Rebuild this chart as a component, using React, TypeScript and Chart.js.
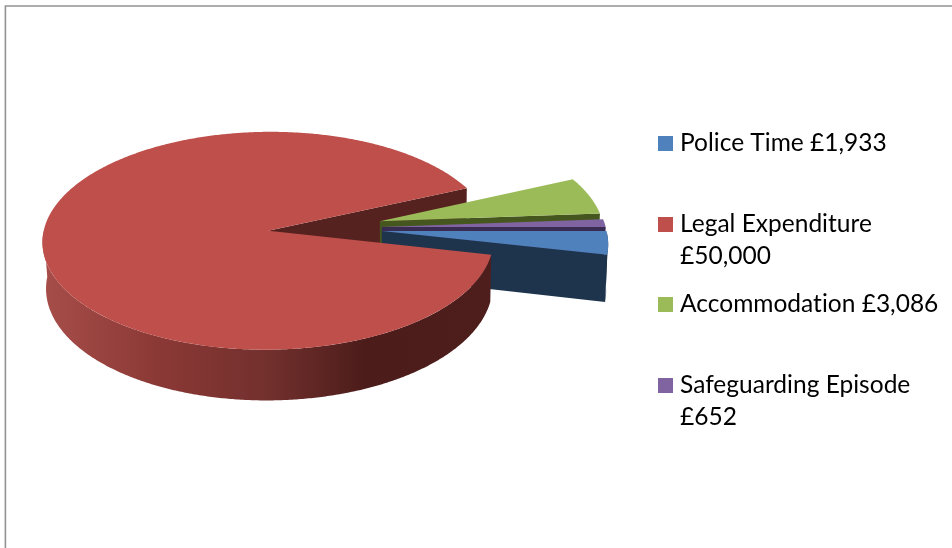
import React, { useEffect, useRef } from "react";
import { Chart, registerables } from "chart.js";

Chart.register(...registerables);

const categories = ["Police Time", "Legal Expenditure", "Accommodation", "Safeguarding Episode"];
const values = [1933, 50000, 3086, 652];
const legendLines = [
  ["Police Time £1,933"],
  ["Legal Expenditure", "£50,000"],
  ["Accommodation £3,086"],
  ["Safeguarding Episode", "£652"],
];
const sliceColors = ["#4F81BD", "#BE4F4B", "#9BBB59", "#8064A2"];
const wallColors = ["#1E344D", "#552220", "#46561F", "#3A2B52"];
const legendRowTops = [143.5, 224.5, 304.5, 385.5];

const FONT = '24.5px "Lato", "Open Sans", sans-serif';
const TILT = 0.48;
const PERSP = 0.000407;
const VX = 300;
const VX_DEPTH = 400;
const DEPTH = 46;

type Pt = [number, number];

const threeD = {
  id: "threeD",
  beforeDraw(chart: any) {
    const { ctx } = chart;
    ctx.save();
    ctx.fillStyle = "#ffffff";
    ctx.fillRect(0, 0, chart.width, chart.height);
    ctx.strokeStyle = "#929292";
    ctx.lineWidth = 1.6;
    ctx.beginPath();
    ctx.moveTo(5.4, chart.height + 2);
    ctx.lineTo(5.4, 6);
    ctx.lineTo(chart.width + 2, 6);
    ctx.stroke();
    ctx.restore();
  },
  beforeDatasetsDraw(chart: any) {
    const { ctx } = chart;
    const arcs: any[] = chart.getDatasetMeta(0).data;
    const cx = arcs[0].x;
    const cy = arcs[0].y;

    const top = (X: number, Y: number): Pt => {
      const w = 1 - PERSP * Y;
      return [VX + (cx + X - VX) / w, cy + (TILT * Y) / w];
    };
    const drop = (X: number, Y: number): Pt => {
      const w = 1 - PERSP * Y;
      const [sx, sy] = top(X, Y);
      return [VX_DEPTH + (sx - VX_DEPTH) * 0.99, sy + DEPTH / w];
    };
    const geometry = (arc: any) => {
      const mid = (arc.startAngle + arc.endAngle) / 2;
      const off = (arc.options.offset || 0) / 4;
      const ax = Math.cos(mid) * off;
      const ay = Math.sin(mid) * off;
      const r = arc.outerRadius;
      return {
        ax,
        ay,
        at: (a: number): Pt => [ax + r * Math.cos(a), ay + r * Math.sin(a)],
      };
    };
    const poly = (pts: Pt[], fill: any) => {
      ctx.beginPath();
      pts.forEach((p, i) => (i ? ctx.lineTo(p[0], p[1]) : ctx.moveTo(p[0], p[1])));
      ctx.closePath();
      ctx.fillStyle = fill;
      ctx.fill();
    };
    const cutWall = (arc: any, color: string) => {
      const g = geometry(arc);
      const [ex, ey] = g.at(arc.endAngle);
      poly([top(g.ax, g.ay), top(ex, ey), drop(ex, ey), drop(g.ax, g.ay)], color);
    };
    const rim = (arc: any, fill: any) => {
      const g = geometry(arc);
      const step = Math.PI / 360;
      const upper: Pt[] = [];
      const lower: Pt[] = [];
      for (let a = arc.startAngle; a <= arc.endAngle; a += step) {
        if (Math.sin(a) < -0.005) continue;
        const [x, y] = g.at(a);
        upper.push(top(x, y));
        lower.unshift(drop(x, y));
      }
      if (upper.length > 1) poly([...upper, ...lower], fill);
    };
    const face = (arc: any, color: string) => {
      const g = geometry(arc);
      const pts: Pt[] = [top(g.ax, g.ay)];
      const n = Math.ceil(((arc.endAngle - arc.startAngle) * 180) / Math.PI) * 2;
      for (let i = 0; i <= n; i++) {
        const [x, y] = g.at(arc.startAngle + ((arc.endAngle - arc.startAngle) * i) / n);
        pts.push(top(x, y));
      }
      poly(pts, color);
    };

    const indices = arcs.map((_, i) => i);
    const big = indices.reduce((m, i) => (arcs[i].circumference > arcs[m].circumference ? i : m), 0);
    const rest = indices
      .filter((i) => i !== big)
      .sort((p, q) => geometry(arcs[p]).ay - geometry(arcs[q]).ay);

    ctx.save();
    cutWall(arcs[big], wallColors[big]);
    rest.forEach((i) => {
      cutWall(arcs[i], wallColors[i]);
      rim(arcs[i], wallColors[i]);
      face(arcs[i], arcs[i].options.backgroundColor);
    });
    const grad = ctx.createLinearGradient(46, 0, 492, 0);
    grad.addColorStop(0, "#A64D49");
    grad.addColorStop(0.26, "#8A3835");
    grad.addColorStop(0.5, "#72302D");
    grad.addColorStop(0.72, "#4B1C1A");
    grad.addColorStop(1, "#4E1E1C");
    rim(arcs[big], grad);
    face(arcs[big], arcs[big].options.backgroundColor);
    ctx.restore();
    return false;
  },
  afterDraw(chart: any) {
    const { ctx } = chart;
    ctx.save();
    ctx.font = FONT;
    ctx.textBaseline = "middle";
    ctx.textAlign = "left";
    (ctx as any).letterSpacing = "0.01px";
    legendLines.forEach((lines, i) => {
      const y = legendRowTops[i];
      ctx.fillStyle = sliceColors[i];
      ctx.fillRect(658, Math.round(y) - 8, 15, 15);
      ctx.fillStyle = "#000000";
      lines.forEach((t, j) => ctx.fillText(t, 680, y + j * 32));
    });
    ctx.restore();
  },
};

export default function App() {
  const ref = useRef<HTMLCanvasElement | null>(null);
  useEffect(() => {
    const chart = new Chart(ref.current as HTMLCanvasElement, {
      type: "pie",
      data: {
        labels: categories,
        datasets: [{ data: values, backgroundColor: sliceColors, borderWidth: 0, offset: 228 }],
      },
      options: {
        animation: false,
        responsive: false,
        devicePixelRatio: 1,
        rotation: 90,
        radius: 224,
        layout: { padding: { left: 0, top: 0, right: 302, bottom: 92 } },
        plugins: { legend: { display: false }, tooltip: { enabled: false } },
      } as any,
      plugins: [threeD],
    });
    return () => chart.destroy();
  }, []);
  return (
    <div style={{ position: "absolute", left: 0, top: 0, width: 952, height: 548, overflow: "hidden" }}>
      <canvas ref={ref} width={952} height={548} style={{ display: "block" }} />
    </div>
  );
}
